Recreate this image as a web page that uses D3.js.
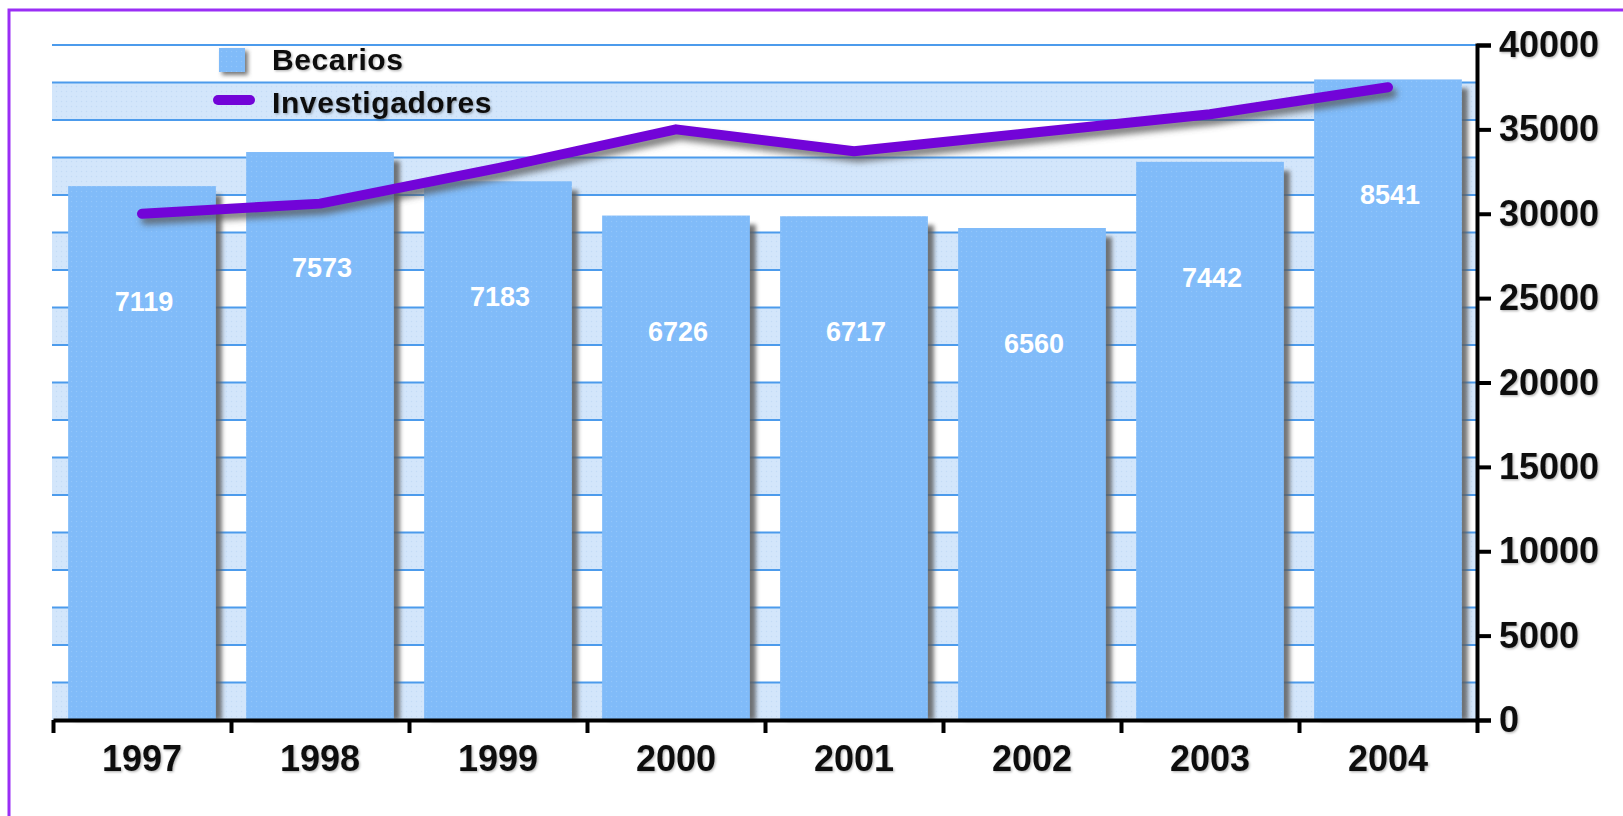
<!DOCTYPE html>
<html>
<head>
<meta charset="utf-8">
<script src="https://cdn.jsdelivr.net/npm/d3@7"></script>
<style>
  html, body { margin: 0; padding: 0; background: #fff; overflow: hidden; }
  svg { display: block; }
  text { font-family: "Liberation Sans", Arial, sans-serif; font-weight: bold; }
</style>
</head>
<body>
<div id="chart"></div>
<script>
// data
const years = ["1997", "1998", "1999", "2000", "2001", "2002", "2003", "2004"];
const becarios = [7119, 7573, 7183, 6726, 6717, 6560, 7442, 8541];
const investigadores = [30000, 30600, 32700, 35000, 33700, 34800, 35900, 37500];
const rightTicks = [0, 5000, 10000, 15000, 20000, 25000, 30000, 35000, 40000];
const legendNames = ["Becarios", "Investigadores"];

const W = 1623, H = 816;
const plotLeft = 53, plotRight = 1477, plotTop = 45, plotBase = 720;

const barColor = "#80bbf9";
const bandColor = "#d3e6fb";
const gridColor = "#4c9bec";
const lineColor = "#7204d8";

const svg = d3.select("#chart").append("svg")
  .attr("width", W).attr("height", H)
  .attr("viewBox", `0 0 ${W} ${H}`);

const defs = svg.append("defs");

// small dotted textures like the original gif
function dotPattern(id, bg, dot) {
  const p = defs.append("pattern").attr("id", id)
    .attr("width", 5).attr("height", 5).attr("patternUnits", "userSpaceOnUse");
  p.append("rect").attr("width", 5).attr("height", 5).attr("fill", bg);
  p.append("circle").attr("cx", 1.5).attr("cy", 1.5).attr("r", 0.7).attr("fill", dot);
}
dotPattern("barFill", barColor, "#92c6fb");
dotPattern("bandFill", bandColor, "#c3dbf6");

const blur = defs.append("filter").attr("id", "blur")
  .attr("x", "-20%").attr("y", "-20%").attr("width", "140%").attr("height", "140%");
blur.append("feGaussianBlur").attr("stdDeviation", 2.2);

const lineBlur = defs.append("filter").attr("id", "lineBlur")
  .attr("x", "-10%").attr("y", "-50%").attr("width", "120%").attr("height", "200%");
lineBlur.append("feGaussianBlur").attr("stdDeviation", 3);

const txtShadow = defs.append("filter").attr("id", "txtShadow")
  .attr("x", "-10%").attr("y", "-20%").attr("width", "130%").attr("height", "150%");
txtShadow.append("feDropShadow").attr("dx", 1.2).attr("dy", 1.2)
  .attr("stdDeviation", 0.8).attr("flood-color", "#000").attr("flood-opacity", 0.3);

// purple frame (only top and left edges are inside the picture)
svg.append("rect")
  .attr("x", 9).attr("y", 10).attr("width", W + 20).attr("height", H + 20)
  .attr("fill", "none").attr("stroke", "#9a2ef5").attr("stroke-width", 3);

// scales
const x = d3.scaleBand().domain(years).range([plotLeft, plotRight])
  .paddingInner(0.17).paddingOuter(0.085);
const yL = d3.scaleLinear().domain([0, 9000]).range([plotBase, plotTop]);
const yR = d3.scaleLinear().domain([0, 40000]).range([plotBase, plotTop]);
const xb = d3.scaleLinear().domain([0, years.length]).range([plotLeft, plotRight]);

// striped background, one band every 500 on the hidden left scale
const gridVals = d3.range(0, 9001, 500);
svg.append("g").selectAll("rect")
  .data(gridVals.slice(0, -1).filter((d, i) => i % 2 === 0))
  .join("rect")
  .attr("x", 52).attr("width", plotRight - 52)
  .attr("y", d => yL(d + 500)).attr("height", d => yL(d) - yL(d + 500))
  .attr("fill", "url(#bandFill)");

svg.append("g").selectAll("line")
  .data(gridVals.slice(1))
  .join("line")
  .attr("x1", 52).attr("x2", plotRight)
  .attr("y1", d => yL(d)).attr("y2", d => yL(d))
  .attr("stroke", gridColor).attr("stroke-width", 1.8);

// bars
const bars = svg.append("g");
bars.selectAll("rect.shadow")
  .data(becarios)
  .join("rect").attr("class", "shadow")
  .attr("x", (d, i) => x(years[i]) + 6)
  .attr("y", d => yL(d) + 9)
  .attr("width", x.bandwidth())
  .attr("height", d => plotBase - yL(d) - 9)
  .attr("fill", "#5f5f5f").attr("opacity", 0.85)
  .attr("filter", "url(#blur)");

bars.selectAll("rect.bar")
  .data(becarios)
  .join("rect").attr("class", "bar")
  .attr("x", (d, i) => x(years[i]))
  .attr("y", d => yL(d))
  .attr("width", x.bandwidth())
  .attr("height", d => plotBase - yL(d))
  .attr("fill", "url(#barFill)");

bars.selectAll("text")
  .data(becarios)
  .join("text")
  .attr("x", (d, i) => x(years[i]) + x.bandwidth() / 2 + 2)
  .attr("y", d => yL(d) + 125)
  .attr("text-anchor", "middle")
  .attr("font-size", 27)
  .attr("fill", "#fff")
  .text(d => d);

// line
const pts = investigadores.map((v, i) => [x(years[i]) + x.bandwidth() / 2, yR(v)]);
const lineGen = d3.line();

svg.append("path")
  .attr("d", lineGen(pts))
  .attr("transform", "translate(4,6)")
  .attr("fill", "none").attr("stroke", "#555").attr("stroke-opacity", 0.75)
  .attr("stroke-width", 10).attr("stroke-linecap", "round").attr("stroke-linejoin", "round")
  .attr("filter", "url(#lineBlur)");

svg.append("path")
  .attr("d", lineGen(pts))
  .attr("fill", "none").attr("stroke", lineColor)
  .attr("stroke-width", 10).attr("stroke-linecap", "round").attr("stroke-linejoin", "round");

// x axis: ticks on category boundaries, labels centred under bars
const xAxis = svg.append("g")
  .attr("transform", `translate(0,${plotBase})`)
  .call(d3.axisBottom(xb).tickValues(d3.range(0, years.length + 1))
    .tickFormat("").tickSize(13).tickSizeOuter(0));
xAxis.select(".domain").attr("stroke-width", 4);
xAxis.selectAll(".tick line").attr("stroke-width", 4);

svg.append("g").selectAll("text")
  .data(years)
  .join("text")
  .attr("x", d => x(d) + x.bandwidth() / 2)
  .attr("y", 771)
  .attr("text-anchor", "middle")
  .attr("font-size", 36)
  .attr("fill", "#111")
  .attr("filter", "url(#txtShadow)")
  .text(d => d);

// right axis
const yAxis = svg.append("g")
  .attr("transform", `translate(${plotRight},0)`)
  .call(d3.axisRight(yR).tickValues(rightTicks).tickFormat(d3.format("d"))
    .tickSize(14).tickPadding(8));
yAxis.select(".domain").attr("stroke-width", 4);
yAxis.selectAll(".tick line").attr("stroke-width", 4);
yAxis.selectAll(".tick text")
  .attr("font-size", 36)
  .attr("font-family", "'Liberation Sans', Arial, sans-serif")
  .attr("fill", "#111")
  .attr("filter", "url(#txtShadow)");

// legend
const legend = svg.append("g");
legend.append("rect")
  .attr("x", 222).attr("y", 51).attr("width", 26).attr("height", 24)
  .attr("fill", "#777").attr("filter", "url(#blur)");
legend.append("rect")
  .attr("x", 219).attr("y", 48).attr("width", 26).attr("height", 24)
  .attr("fill", "url(#barFill)");
legend.append("line")
  .attr("x1", 218).attr("x2", 250).attr("y1", 100).attr("y2", 100)
  .attr("transform", "translate(3,4)")
  .attr("stroke", "#555").attr("stroke-opacity", 0.7).attr("stroke-width", 10)
  .attr("stroke-linecap", "round").attr("filter", "url(#lineBlur)");
legend.append("line")
  .attr("x1", 218).attr("x2", 250).attr("y1", 100).attr("y2", 100)
  .attr("stroke", lineColor).attr("stroke-width", 10).attr("stroke-linecap", "round");
legend.selectAll("text")
  .data(legendNames)
  .join("text")
  .attr("x", 272)
  .attr("y", (d, i) => 70 + i * 43)
  .attr("font-size", 30)
  .attr("letter-spacing", 0.6)
  .attr("fill", "#111")
  .attr("filter", "url(#txtShadow)")
  .text(d => d);
</script>
</body>
</html>
